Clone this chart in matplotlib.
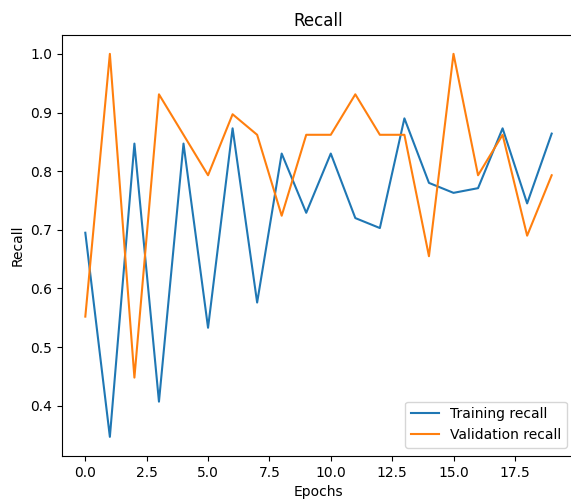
import matplotlib
matplotlib.use("Agg")
import matplotlib.pyplot as plt

epochs = list(range(20))
training_recall = [0.695, 0.347, 0.847, 0.407, 0.847, 0.533, 0.873, 0.576, 0.830, 0.729,
                   0.830, 0.720, 0.703, 0.890, 0.780, 0.763, 0.771, 0.873, 0.745, 0.864]
validation_recall = [0.552, 1.0, 0.448, 0.931, 0.862, 0.793, 0.897, 0.862, 0.724, 0.862,
                     0.862, 0.931, 0.862, 0.862, 0.655, 1.0, 0.793, 0.862, 0.690, 0.793]

fig = plt.figure(figsize=(5.71, 4.99), dpi=100)
ax = fig.add_axes([62/571, 43/499, 513/571, 421.3/499])
ax.plot(epochs, training_recall, label="Training recall")
ax.plot(epochs, validation_recall, label="Validation recall")
ax.set_title("Recall", fontsize=12)
ax.set_xlabel("Epochs", fontsize=10)
ax.set_ylabel("Recall", fontsize=10)
ax.tick_params(labelsize=10)
ax.spines['right'].set_visible(False)
ax.legend(loc="lower right", fontsize=10, borderaxespad=0.6)
fig.savefig("out.png", dpi=100)
